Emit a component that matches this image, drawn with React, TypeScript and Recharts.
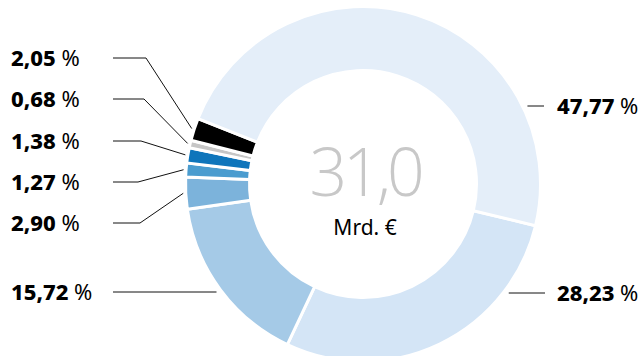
import { PieChart, Pie, Cell } from "recharts"

// shares in %, clockwise starting just below 3 o'clock
const segments = ["s1", "s2", "s3", "s4", "s5", "s6", "s7", "s8"]
const shares = [28.23, 15.72, 2.9, 1.27, 1.38, 0.68, 2.05, 47.77]
const colors = ["#d4e5f6", "#a5cae7", "#7cb3db", "#4a9ccf", "#0e75bb", "#c6c6c6", "#000000", "#e4eef9"]
const totalLabel = "31,0"
const unitLabel = "Mrd. €"

const data = segments.map((id, i) => ({ id, share: shares[i] }))

// label placement (layout only)
const labelLayout = [
  { mode: "flat", side: "right", y: 293, lineX: 545, textX: 557 },
  { mode: "flat", side: "left", y: 292, lineX: 113, textX: 11 },
  { mode: "mid", side: "left", y: 223, elbow: 140, textX: 11 },
  { mode: "mid", side: "left", y: 182, elbow: 138, textX: 11 },
  { mode: "mid", side: "left", y: 141, elbow: 141, textX: 11 },
  { mode: "mid", side: "left", y: 99, elbow: 144, textX: 11 },
  { mode: "mid", side: "left", y: 58, elbow: 146, textX: 11 },
  { mode: "flat", side: "right", y: 106, lineX: 544, textX: 557 },
]

const FONT = "'Noto Sans', sans-serif"
const RAD = Math.PI / 180
const RING = 182
const RING_MID = 180

const renderLabel = (props: any) => {
  const { cx, cy, midAngle, index } = props
  const lay: any = labelLayout[index]
  const text = shares[index].toFixed(2).replace(".", ",")
  let points = ""
  if (lay.mode === "mid") {
    const ex = cx + RING_MID * Math.cos(-midAngle * RAD)
    const ey = cy + RING_MID * Math.sin(-midAngle * RAD)
    points = `113,${lay.y} ${lay.elbow},${lay.y} ${ex},${ey}`
  } else {
    const dy = lay.y - cy
    const dx = Math.sqrt(RING * RING - dy * dy)
    const rx = lay.side === "left" ? cx - dx : cx + dx
    points = `${lay.lineX},${lay.y} ${rx},${lay.y}`
  }
  return (
    <g key={`lbl-${index}`}>
      <polyline points={points} fill="none" stroke="#111" strokeWidth={1} />
      <text x={lay.textX} y={lay.y + 7.8} fontFamily={FONT} fontSize={22} fill="#000">
        <tspan fontWeight={800}>{text}</tspan>
        <tspan fontWeight={400}> %</tspan>
      </text>
    </g>
  )
}

export default function App() {
  return (
    <div style={{ position: "absolute", left: 0, top: 0, width: 643, height: 356, background: "#fff" }}>
      <PieChart width={643} height={356} margin={{ top: 0, right: 0, bottom: 0, left: 0 }}>
        <Pie
          data={data}
          dataKey="share"
          cx={363}
          cy={184}
          innerRadius={113.5}
          outerRadius={177.5}
          startAngle={-13.6}
          endAngle={-373.6}
          stroke="#fff"
          strokeWidth={3}
          labelLine={false}
          label={renderLabel}
          isAnimationActive={false}
        >
          {data.map((entry, index) => (
            <Cell key={`cell-${entry.id}`} fill={colors[index]} />
          ))}
        </Pie>
        <text x={365} y={196} textAnchor="middle" fontFamily="'Open Sans', sans-serif" fontWeight={300} fontSize={66} letterSpacing={-4} fill="#c8c8c8">
          {totalLabel}
        </text>
        <text x={365} y={235} textAnchor="middle" fontFamily={FONT} fontSize={21} fill="#000">
          {unitLabel}
        </text>
      </PieChart>
    </div>
  )
}
